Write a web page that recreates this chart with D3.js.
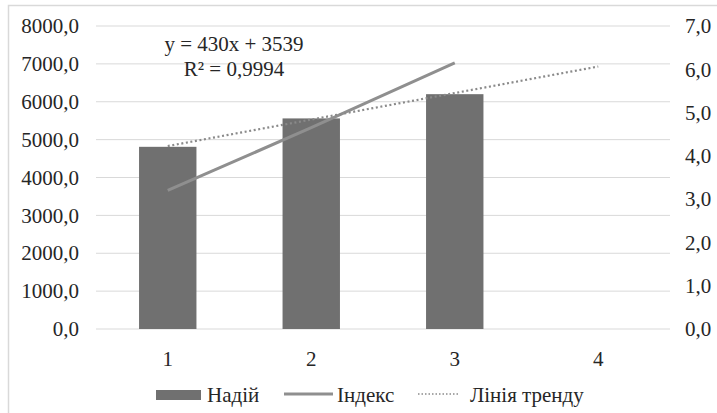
<!DOCTYPE html>
<html><head><meta charset="utf-8">
<script src="https://cdn.jsdelivr.net/npm/d3@7"></script>
</head><body style="margin:0;background:#fff">
<svg id="c" width="717" height="413" style="display:block"></svg>
<script>
const categories = [1, 2, 3, 4];
const nadiyValues = [4810, 5560, 6200];           // bars, left axis
const indexValues = [3.2, 4.65, 6.15];            // line, right axis
const trendPoints = [[1, 4830], [4, 6930]];       // linear trend of bars (left axis)
const leftTicks = [0,1000,2000,3000,4000,5000,6000,7000,8000];
const rightTicks = [0,1,2,3,4,5,6,7];
const equationLines = ["y = 430x + 3539", "R² = 0,9994"];
const legendLabels = ["Надій", "Індекс", "Лінія тренду"];

const FONT = '"Liberation Serif", monospace';
// warm up the local font so the SVG text uses it on first paint
(function(){ const cx = document.createElement("canvas").getContext("2d");
  ["\"Liberation Serif\", monospace", "21px \"Liberation Serif\", monospace"].forEach(f => {
    cx.font = (f.startsWith("21px") ? "" : "20px ") + f; cx.measureText("Надій 8000,0 Wg"); }); })();

const svg = d3.select("#c");
const fmt = v => d3.format(".1f")(v).replace(".", ",");

const L = 96, R = 670, T = 26, B = 329;
const x = d3.scaleBand().domain(categories).range([L, R]).paddingInner(0.6).paddingOuter(0.3);
const xc = d => x(d) + x.bandwidth() / 2;
const yL = d3.scaleLinear().domain([0, 8000]).range([B, T]);
const yR = d3.scaleLinear().domain([0, 7]).range([B, T]);

// chart border
svg.append("rect").attr("x", 8.5).attr("y", 5.5).attr("width", 740).attr("height", 440)
  .attr("fill", "none").attr("stroke", "#d9d9d9").attr("stroke-width", 1.5);

// gridlines
svg.selectAll("line.grid").data(leftTicks).join("line").attr("class", "grid")
  .attr("x1", L).attr("x2", R).attr("y1", d => yL(d)).attr("y2", d => yL(d))
  .attr("stroke", "#d9d9d9").attr("stroke-width", 1);

const st = sel => sel.attr("fill", "#262626").attr("font-size", 21)
  .style("font-family", FONT).style("font-size", "21px");

// axes
const axL = svg.append("g").attr("transform", `translate(${L},0)`)
  .call(d3.axisLeft(yL).tickValues(leftTicks).tickFormat(fmt).tickSize(0).tickPadding(17));
const axR = svg.append("g").attr("transform", `translate(${R},0)`)
  .call(d3.axisRight(yR).tickValues(rightTicks).tickFormat(fmt).tickSize(0).tickPadding(15));
const axB = svg.append("g").attr("transform", `translate(0,${B})`)
  .call(d3.axisBottom(x).tickSize(0).tickPadding(22));
[axL, axR, axB].forEach(a => {
  a.attr("font-family", null).attr("font-size", null);
  a.select(".domain").remove();
  st(a.selectAll("text"));
});

// bars
svg.selectAll("rect.bar").data(nadiyValues).join("rect").attr("class", "bar")
  .attr("x", (d, i) => x(categories[i])).attr("width", x.bandwidth())
  .attr("y", d => yL(d)).attr("height", d => B - yL(d)).attr("fill", "#707070");

// index line
svg.append("path").datum(indexValues)
  .attr("d", d3.line().x((d, i) => xc(categories[i])).y(d => yR(d)))
  .attr("fill", "none").attr("stroke", "#8f8f8f").attr("stroke-width", 3);

// trend line
svg.append("path").datum(trendPoints)
  .attr("d", d3.line().x(d => xc(d[0])).y(d => yL(d[1])))
  .attr("fill", "none").attr("stroke", "#8a8a8a").attr("stroke-width", 2.2)
  .attr("stroke-dasharray", "2,2.6");

// equation
st(svg.selectAll("text.eq").data(equationLines).join("text").attr("class", "eq")
  .attr("x", 234).attr("y", (d, i) => 51 + i * 25).attr("text-anchor", "middle").text(d => d));

// legend
svg.append("rect").attr("x", 156).attr("y", 390).attr("width", 45).attr("height", 10).attr("fill", "#707070");
svg.append("line").attr("x1", 284).attr("x2", 333).attr("y1", 394).attr("y2", 394)
  .attr("stroke", "#8f8f8f").attr("stroke-width", 3);
svg.append("line").attr("x1", 418).attr("x2", 459).attr("y1", 394).attr("y2", 394)
  .attr("stroke", "#8a8a8a").attr("stroke-width", 1.5).attr("stroke-dasharray", "1.5,2");
const lx = [207, 337, 470];
st(svg.selectAll("text.lg").data(legendLabels).join("text").attr("class", "lg")
  .attr("x", (d, i) => lx[i]).attr("y", 402).text(d => d));
</script>
</body></html>
